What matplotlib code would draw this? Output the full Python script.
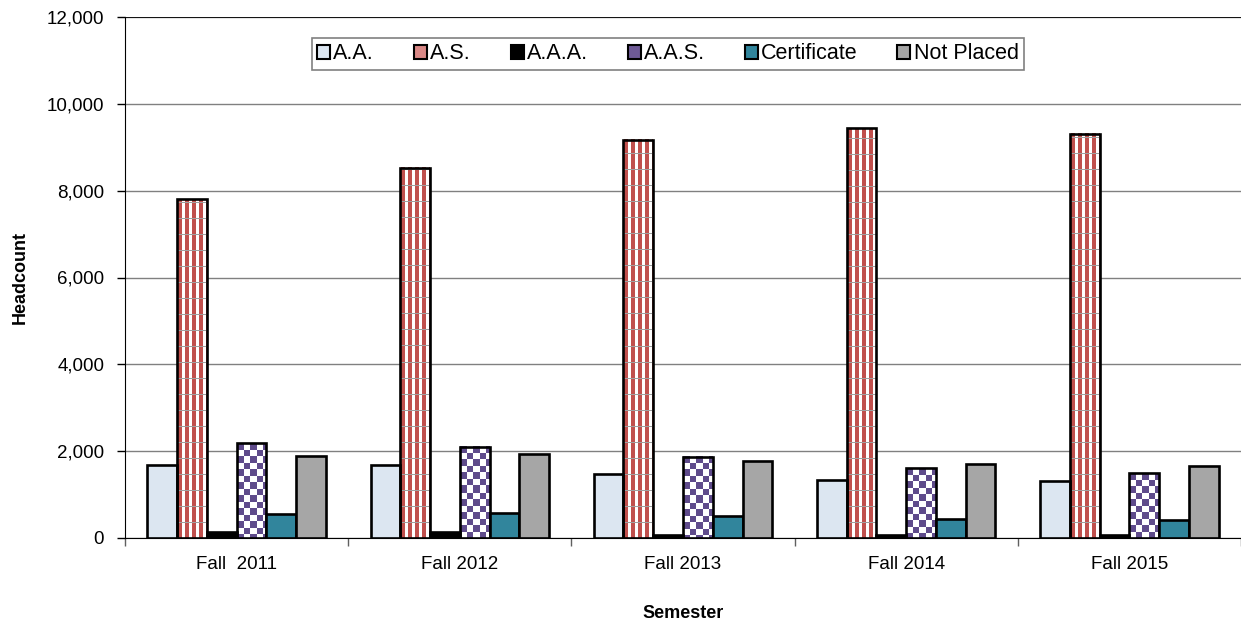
import numpy as np
import matplotlib
matplotlib.use("Agg")
import matplotlib.pyplot as plt
from matplotlib.patches import Patch
from matplotlib.ticker import FuncFormatter, FixedLocator

# ---------------- data ----------------
semesters = ["Fall  2011", "Fall 2012", "Fall 2013", "Fall 2014", "Fall 2015"]
series_names = ["A.A.", "A.S.", "A.A.A.", "A.A.S.", "Certificate", "Not Placed"]
aa = [1670, 1685, 1480, 1340, 1305]
as_deg = [7800, 8530, 9170, 9440, 9310]
aaa = [130, 130, 80, 60, 80]
aas = [2180, 2100, 1875, 1605, 1490]
cert = [560, 580, 500, 445, 420]
not_placed = [1880, 1930, 1785, 1710, 1650]
y_ticks = [0, 2000, 4000, 6000, 8000, 10000, 12000]

series_values = [aa, as_deg, aaa, aas, cert, not_placed]

# ---------------- style ----------------
plt.rcParams["font.family"] = ["Liberation Sans", "DejaVu Sans"]

c_aa = "#DCE6F1"
c_aaa = "#000000"
c_cert = "#31859C"
c_np = "#A6A6A6"

W, H, DPI = 12.41, 6.26, 100
fig = plt.figure(figsize=(W, H), dpi=DPI)
ax = fig.add_axes([125 / 1241, 88 / 626, 1116 / 1241, 521 / 626])

n_groups = len(semesters)
n_series = len(series_names)
group_w = 0.8
bar_w = group_w / n_series
x = np.arange(n_groups)

ax.set_xlim(-0.5, n_groups - 0.5)
ax.set_ylim(0, 12000)

# pixel scale for textures
ax_w_px = 1116
ax_h_px = 521
px_per_x = ax_w_px / n_groups
px_per_y = ax_h_px / 12000.0
bar_px = bar_w * px_per_x


def striped_texture(h_px, w_px):
    h = max(int(round(h_px)), 1)
    w = max(int(round(w_px)), 1)
    img = np.ones((h, w, 3))
    red = np.array([0xC0, 0x50, 0x4D]) / 255.0
    gray = np.array([0xA0, 0xA0, 0xA0]) / 255.0
    for c in range(w):
        if (c % 7) in (1, 2, 3, 4):
            img[:, c, :] = red
    for r in range(h):
        if (h - 1 - r) % 16 == 15:
            img[r, :, :] = gray
    return img


def checker_texture(h_px, w_px, cell=6.5):
    h = max(int(round(h_px)), 1)
    w = max(int(round(w_px)), 1)
    img = np.ones((h, w, 3))
    purple = np.array([0x5F, 0x4B, 0x8B]) / 255.0
    for r in range(h):
        for c in range(w):
            if (int(r / cell) + int(c / cell)) % 2 == 0:
                img[r, c, :] = purple
    return img


offsets = (np.arange(n_series) - (n_series - 1) / 2) * bar_w
fills = [c_aa, None, c_aaa, None, c_cert, c_np]

for i, vals in enumerate(series_values):
    xs = x + offsets[i]
    if fills[i] is not None:
        ax.bar(xs, vals, width=bar_w, color=fills[i], edgecolor="black",
               linewidth=1.9, zorder=3)
    else:
        for xi, v in zip(xs, vals):
            x0, x1 = xi - bar_w / 2, xi + bar_w / 2
            hpx = v * px_per_y
            if i == 1:
                tex = striped_texture(hpx, bar_px)
            else:
                tex = checker_texture(hpx, bar_px)
            ax.imshow(tex, extent=(x0, x1, 0, v), aspect="auto",
                      interpolation="nearest", zorder=2.5)
        ax.bar(xs, vals, width=bar_w, facecolor="none", edgecolor="black",
               linewidth=1.9, zorder=3)

ax.set_xlim(-0.5, n_groups - 0.5)
ax.set_ylim(0, 12000)
ax.set_aspect("auto")

# grid
ax.yaxis.set_major_locator(FixedLocator(y_ticks))
ax.yaxis.set_major_formatter(FuncFormatter(lambda v, p: f"{int(v):,}"))
ax.grid(axis="y", color="#808080", linewidth=1.0, zorder=0)
ax.set_axisbelow(True)

for s in ["top", "right"]:
    ax.spines[s].set_visible(False)
ax.spines["left"].set_color("black")
ax.spines["bottom"].set_color("black")
ax.axhline(12000, color="black", linewidth=1.2, zorder=1)

ax.tick_params(axis="y", direction="out", length=6, width=1, labelsize=13.5,
               pad=9, colors="black")
ax.set_xticks(x)
ax.set_xticklabels(semesters)
ax.set_xticks(np.arange(-0.5, n_groups + 0.5, 1.0), minor=True)
ax.tick_params(axis="x", which="major", length=0, labelsize=13.5, pad=13)
ax.tick_params(axis="x", which="minor", direction="out", length=6, width=1,
               color="#606060")

ax.set_ylabel("Headcount", fontsize=13, fontweight="bold", labelpad=13)
ax.set_xlabel("Semester", fontsize=13, fontweight="bold", labelpad=23)

# legend
handles = [
    Patch(facecolor=c_aa, edgecolor="black", linewidth=1.5),
    Patch(facecolor="#D98886", edgecolor="black", linewidth=1.5),
    Patch(facecolor=c_aaa, edgecolor="black", linewidth=1.5),
    Patch(facecolor="#6E5A96", edgecolor="black", linewidth=1.5),
    Patch(facecolor=c_cert, edgecolor="black", linewidth=1.5),
    Patch(facecolor=c_np, edgecolor="black", linewidth=1.5),
]
leg = ax.legend(handles, series_names, loc="center",
                bbox_to_anchor=(0.4865, 0.929), ncol=6, fontsize=15.5,
                handlelength=0.6, handleheight=0.6, handletextpad=0.15,
                columnspacing=1.85, borderpad=0.25, fancybox=False,
                framealpha=1, edgecolor="#808080")
leg.get_frame().set_linewidth(1.2)
leg.set_zorder(5)

fig.savefig("out.png", dpi=DPI)
